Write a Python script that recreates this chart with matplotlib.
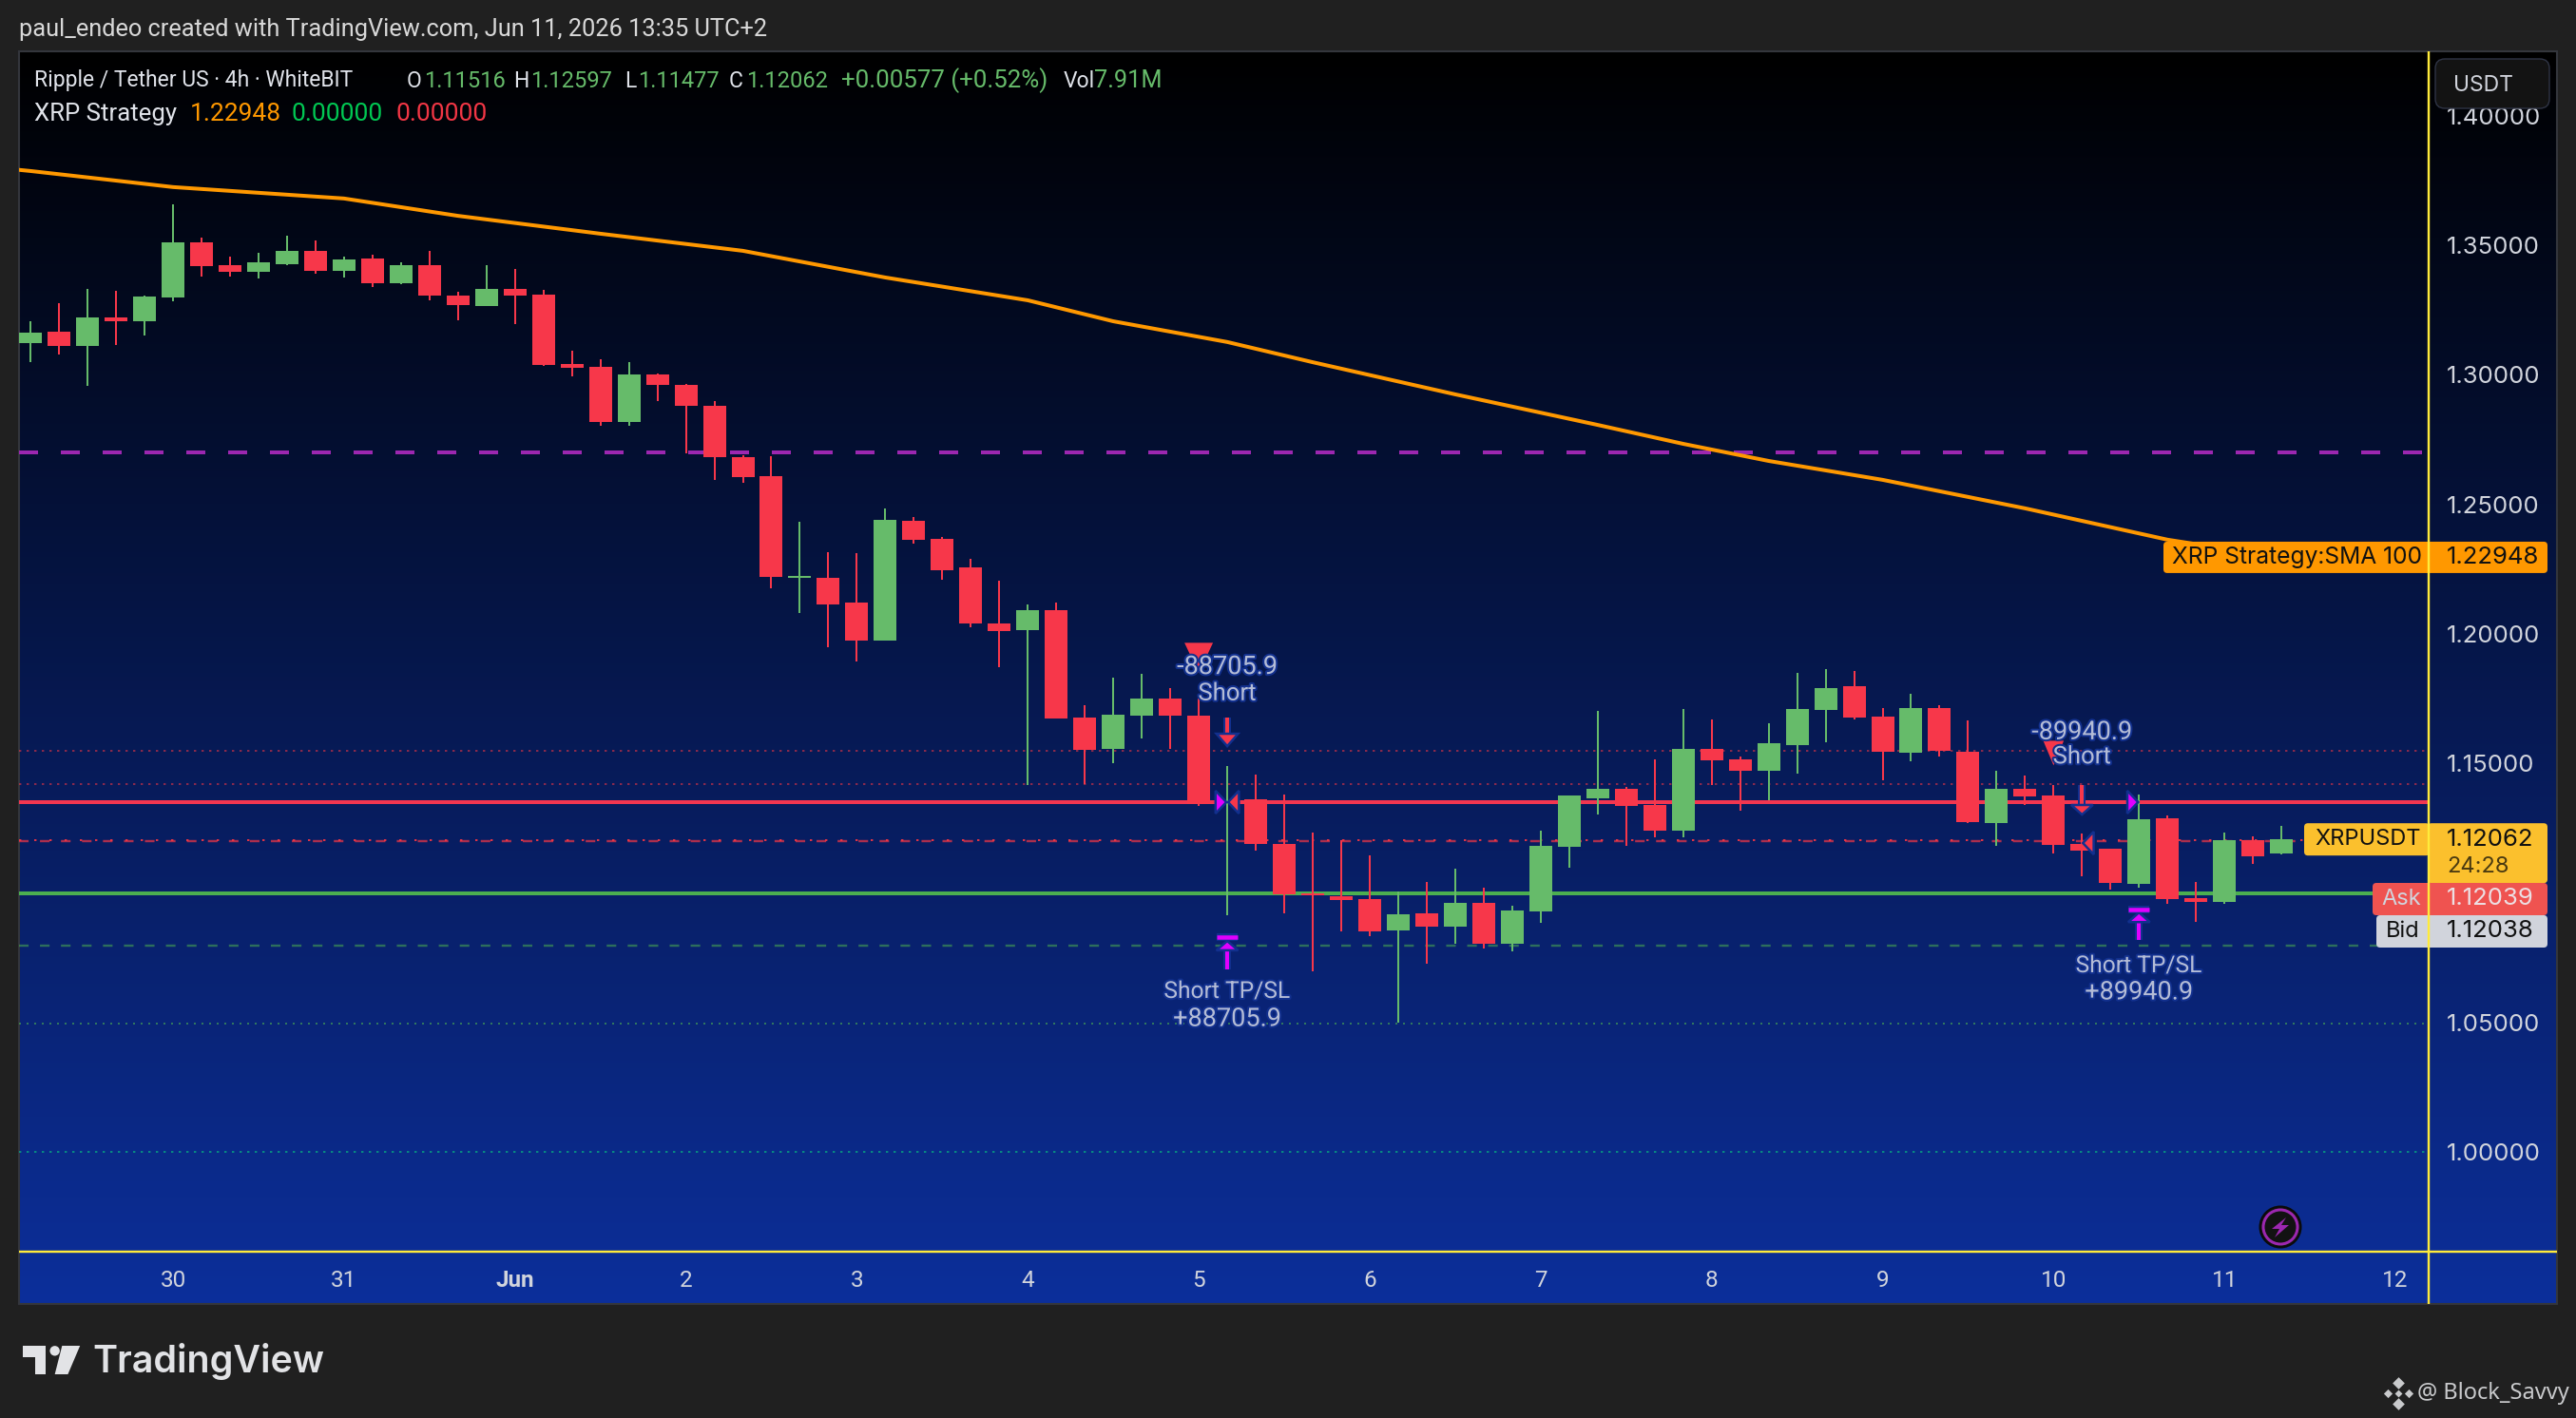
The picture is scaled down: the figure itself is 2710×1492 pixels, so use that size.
import numpy as np
import matplotlib
matplotlib.use("Agg")
import matplotlib.pyplot as plt
from matplotlib.patches import FancyBboxPatch, Polygon, Circle
import matplotlib.patheffects as pe

# ---------- data ----------
opens = [1.3122,1.3166,1.3111,1.3221,1.3206,1.3298,1.3511,1.3423,1.3397,1.3426,
         1.3478,1.3401,1.3448,1.3353,1.3423,1.3305,1.3265,1.3331,1.3309,1.3041,
         1.3030,1.2817,1.3001,1.2960,1.2880,1.2682,1.2608,1.2216,1.2216,1.2120,
         1.1973,1.2436,1.2366,1.2256,1.2040,1.2014,1.2091,1.1676,1.1556,1.1684,
         1.1750,1.1684,1.1350,1.1361,1.1188,1.0998,1.0987,1.0976,1.0855,1.0921,
         1.0869,1.0961,1.0803,1.0928,1.1177,1.1365,1.1401,1.1339,1.1240,1.1556,
         1.1515,1.1471,1.1570,1.1706,1.1797,1.1680,1.1541,1.1713,1.1544,1.1269,
         1.1401,1.1376,1.1188,1.1170,1.1034,1.1288,1.0979,1.0965,1.1203,1.11516]
highs = [1.3206,1.3276,1.3331,1.3324,1.3305,1.3657,1.3529,1.3456,1.3470,1.3536,
         1.3518,1.3456,1.3463,1.3434,1.3478,1.3320,1.3423,1.3408,1.3327,1.3092,
         1.3060,1.3048,1.3004,1.2964,1.2898,1.2689,1.2685,1.2432,1.2315,1.2311,
         1.2483,1.2450,1.2373,1.2289,1.2205,1.2113,1.2120,1.1724,1.1830,1.1845,
         1.1790,1.1750,1.1489,1.1456,1.1379,1.1233,1.1203,1.1145,1.1005,1.1042,
         1.1093,1.1020,1.0950,1.1240,1.1376,1.1702,1.1409,1.1515,1.1709,1.1669,
         1.1526,1.1654,1.1849,1.1864,1.1856,1.1713,1.1768,1.1724,1.1665,1.1471,
         1.1453,1.1416,1.1229,1.1170,1.1379,1.1299,1.1042,1.1233,1.1218,1.12597]
lows = [1.3048,1.3078,1.2957,1.3114,1.3151,1.3283,1.3379,1.3379,1.3371,1.3423,
        1.3390,1.3375,1.3338,1.3349,1.3287,1.3210,1.3265,1.3195,1.3034,1.2993,
        1.2803,1.2803,1.2898,1.2696,1.2595,1.2581,1.2175,1.2080,1.1948,1.1893,
        1.1973,1.2348,1.2208,1.2025,1.1871,1.1416,1.1673,1.1420,1.1500,1.1596,
        1.1556,1.1335,1.0913,1.1163,1.0921,1.0697,1.0851,1.0833,1.0499,1.0726,
        1.0803,1.0785,1.0774,1.0884,1.1097,1.1302,1.1181,1.1214,1.1214,1.1416,
        1.1317,1.1357,1.1460,1.1581,1.1669,1.1434,1.1508,1.1526,1.1269,1.1181,
        1.1339,1.1152,1.1064,1.1013,1.1020,1.0957,1.0888,1.0957,1.1111,1.11477]
closes = [1.3162,1.3111,1.3221,1.3206,1.3302,1.3511,1.3419,1.3397,1.3434,1.3478,
          1.3401,1.3445,1.3353,1.3423,1.3305,1.3269,1.3331,1.3305,1.3037,1.3026,
          1.2817,1.3001,1.2960,1.2880,1.2682,1.2604,1.2219,1.2223,1.2113,1.1973,
          1.2439,1.2362,1.2245,1.2040,1.2010,1.2091,1.1673,1.1552,1.1687,1.1750,
          1.1684,1.1343,1.1357,1.1188,1.0994,1.0990,1.0972,1.0851,1.0917,1.0869,
          1.0961,1.0803,1.0932,1.1181,1.1376,1.1401,1.1335,1.1240,1.1556,1.1511,
          1.1471,1.1577,1.1709,1.1790,1.1676,1.1544,1.1713,1.1548,1.1273,1.1401,
          1.1372,1.1185,1.1163,1.1038,1.1284,1.0976,1.0965,1.1203,1.1141,1.12062]

sma_bars = [-1,0,3,5,8,11,15,20,25,30,35,38,42,45,50,55,58,61,65,70,75,79]
sma_vals = [1.3797,1.3786,1.3749,1.3724,1.3702,1.3680,1.3613,1.3544,1.3478,1.3375,
            1.3287,1.3206,1.3126,1.3048,1.2924,1.2806,1.2733,1.2667,1.2594,1.2484,
            1.2363,1.22948]

price_ticks = [1.00,1.05,1.10,1.15,1.20,1.25,1.30,1.35,1.40]
price_tick_labels = ["1.00000","1.05000","","1.15000","1.20000","1.25000","1.30000","1.35000","1.40000"]
day_bars = [5,11,17,23,29,35,41,47,53,59,65,71,77,83]
day_labels = ["30","31","Jun","2","3","4","5","6","7","8","9","10","11","12"]

level_purple = 1.2700
level_red = 1.1350
level_green = 1.0998
levels_red_dotted = [1.1548,1.1420]
level_red_dashed = 1.1200
level_red_dots = 1.1205
level_green_dashed = 1.0796
level_green_dotted = 1.0495
level_teal_dotted = 1.0000

last_close = 1.12062
ask = 1.12039
bid = 1.12038
sma_last = 1.22948

# ---------- geometry ----------
W, H = 2710, 1492
L, R, T, B = 20, 2555, 54, 1317
PR, PB = 2690, 1372
PX_PER_UNIT = 2726.0
BAR_PX = 29.975
FONT_UI = "Roboto"
FONT_PX = "Inter"
GREEN = "#66bb6a"
RED = "#f7374a"
TXT = "#d1d4dc"
YEL = "#ffeb3b"
ORANGE = "#ff9800"
MAG = "#e000ff"
OUT = "#12308e"

px = lambda v: v * 0.72  # pixels -> points at dpi 100

fig = plt.figure(figsize=(W / 100, H / 100), dpi=100, facecolor="#202020")

# gradient panel
bg = fig.add_axes([L / W, 1 - PB / H, (PR - L) / W, (PB - T) / H], zorder=0)
grad = np.linspace(0, 1, 512)[:, None, None] * np.array([12, 47, 155])[None, None, :] / 255
bg.imshow(grad, aspect="auto", interpolation="bilinear")
bg.set_xticks([]); bg.set_yticks([])
for s in bg.spines.values():
    s.set_color("#34363c"); s.set_linewidth(1.5)

# main axes
ax = fig.add_axes([L / W, 1 - B / H, (R - L) / W, (B - T) / H], zorder=2)
ax.patch.set_alpha(0)
for s in ax.spines.values():
    s.set_visible(False)
ax.set_xlim(5 + (L - 182) / BAR_PX, 5 + (R - 182) / BAR_PX)
ax.set_ylim(1 - (B - 1212) / PX_PER_UNIT, 1 + (1212 - T) / PX_PER_UNIT)

def py(price):
    return 1212 - (price - 1) * PX_PER_UNIT

def hline(p, color, lw_px, ls, alpha=1.0, z=1):
    ax.axhline(p, color=color, lw=px(lw_px), ls=ls, alpha=alpha, zorder=z)

hline(level_red, "#f23650", 4, "-")
hline(level_green, "#4caf50", 4, "-")
hline(level_purple, "#9c27b0", 4, (0, (5, 6)))
for p in levels_red_dotted:
    hline(p, "#f23645", 2, (0, (1.2, 2.8)), 0.55)
hline(level_red_dashed, "#f23645", 2.4, (0, (4.2, 5.0)), 0.7)
hline(level_red_dots, "#f23645", 2, (0, (1.2, 6.8)), 0.9)
hline(level_green_dashed, "#4caf50", 2.4, (0, (4.2, 5.0)), 0.55)
hline(level_green_dotted, "#4caf50", 2, (0, (1, 3)), 0.6)
hline(level_teal_dotted, "#089981", 2, (0, (1.2, 2.8)), 0.85)

# SMA
ax.plot(sma_bars, sma_vals, color=ORANGE, lw=px(4), zorder=2, solid_capstyle="butt")

# candles
idx = np.arange(len(opens))
o, h, l, c = map(np.array, (opens, highs, lows, closes))
col = np.where(c >= o, GREEN, RED)
ax.vlines(idx, l, h, colors=col, lw=px(2), zorder=3)
ax.bar(idx, np.abs(c - o), bottom=np.minimum(o, c), width=24 / BAR_PX, color=col, lw=0, zorder=4)

# trade markers
def arrow(bar, tail, head_base, tip, color, hw=0.38):
    ax.plot([bar, bar], [tail, head_base], color=color, lw=px(4), zorder=5,
            solid_capstyle="butt", path_effects=[pe.Stroke(linewidth=px(8), foreground=OUT), pe.Normal()])
    ax.add_patch(Polygon([[bar - hw, head_base], [bar + hw, head_base], [bar, tip]], closed=True,
                         fc=color, ec=OUT, lw=px(2.5), zorder=6))

def tp_arrow(bar, tail, head_base, tip, bar_top):
    arrow(bar, tail, head_base, tip, MAG)
    ax.plot([bar - 0.37, bar + 0.37], [bar_top, bar_top], color=MAG, lw=px(4.5), zorder=6,
            solid_capstyle="butt", path_effects=[pe.Stroke(linewidth=px(8), foreground=OUT), pe.Normal()])

def side_tri(bar, price, direction, color, offset=0.03):
    tipx = bar + (-offset if direction > 0 else offset)
    basex = tipx - direction * 0.38
    dy = 12 / PX_PER_UNIT
    ax.add_patch(Polygon([[basex, price - dy], [basex, price + dy], [tipx, price]], closed=True,
                         fc=color, ec=OUT, lw=px(2.5), zorder=6))

def down_tri(bar, top, tip, color, hw=0.5):
    ax.add_patch(Polygon([[bar - hw, top], [bar + hw, top], [bar, tip]], closed=True,
                         fc=color, ec="none", zorder=6))

arrow(42, 1.1676, 1.1614, 1.1566, RED)
arrow(72, 1.1416, 1.1339, 1.1302, RED)
tp_arrow(42, 1.0704, 1.0778, 1.0814, 1.0829)
tp_arrow(74, 1.0818, 1.0887, 1.0924, 1.0937)
side_tri(42, level_red, 1, MAG)
side_tri(42, level_red, -1, RED)
side_tri(72, 1.1192, -1, RED)
side_tri(74, level_red, 1, MAG)
down_tri(41, 1.1965, 1.1848, RED)
down_tri(71, 1.1587, 1.1492, RED, hw=0.36)

def trade_text(bar, price, s, size):
    t = ax.text(bar, price, s, ha="center", va="center", color="#b4bcd6", fontsize=size,
                family=FONT_UI, zorder=7)
    t.set_path_effects([pe.Stroke(linewidth=px(4), foreground=OUT), pe.Normal()])

trade_text(42, 1.1872, "-88705.9", 19.5)
trade_text(42, 1.1769, "Short", 18.5)
trade_text(42, 1.0620, "Short TP/SL", 17.7)
trade_text(42, 1.0513, "+88705.9", 19.5)
trade_text(72, 1.1620, "-89940.9", 19.5)
trade_text(72, 1.1525, "Short", 18.5)
trade_text(74, 1.0719, "Short TP/SL", 17.7)
trade_text(74, 1.0616, "+89940.9", 19.5)

# axes ticks
ax.yaxis.tick_right()
ax.set_yticks(price_ticks)
ax.set_yticklabels(price_tick_labels, family=FONT_PX, fontsize=18.5, color=TXT)
ax.set_xticks(day_bars)
ax.set_xticklabels(day_labels, family=FONT_UI, fontsize=17.5, color=TXT)
ax.tick_params(axis="both", length=0)
ax.tick_params(axis="y", pad=px(19))
ax.tick_params(axis="x", pad=px(19))
for lab in ax.get_xticklabels():
    if lab.get_text() == "Jun":
        lab.set_fontweight("bold")

# overlay in pixel coordinates
ov = fig.add_axes([0, 0, 1, 1], zorder=5)
ov.set_xlim(0, W); ov.set_ylim(H, 0); ov.axis("off"); ov.patch.set_alpha(0)

def txt(x, y, s, color=TXT, size=16.5, family=FONT_UI, ha="left", weight="normal", z=10):
    return ov.text(x, y, s, color=color, fontsize=size, family=family, ha=ha, va="center",
                   fontweight=weight, zorder=z)

def box(x0, y0, x1, y1, color, rad=5, z=8, ec="none"):
    ov.add_patch(FancyBboxPatch((x0 + rad, y0 + rad), x1 - x0 - 2 * rad, y1 - y0 - 2 * rad,
                                boxstyle=f"round,pad={rad},rounding_size={rad}", fc=color, ec=ec, lw=1, zorder=z))

# header & legend
txt(20, 31, "paul_endeo created with TradingView.com, Jun 11, 2026 13:35 UTC+2", size=18.3, color="#d8d8d8")
LEG_GREEN = "#66bb6a"
yl1, yl2 = 85, 120
txt(36, yl1, "Ripple / Tether US · 4h · WhiteBIT", color="#e0e3ea")
for x, s, in [(428, "O"), (540, "H"), (657, "L"), (767, "C"), (1119, "Vol")]:
    txt(x, yl1, s, color="#e0e3ea")
for x, s in [(446, "1.11516"), (558, "1.12597"), (671, "1.11477"), (785, "1.12062")]:
    txt(x, yl1, s, color=LEG_GREEN, size=17)
txt(885, yl1, "+0.00577 (+0.52%)", color=LEG_GREEN, size=18.6)
txt(1151, yl1, "7.91M", color=LEG_GREEN, size=18.2)
txt(36, yl2, "XRP Strategy", size=18.5, color="#e0e3ea")
txt(200, yl2, "1.22948", color=ORANGE, size=19)
txt(307, yl2, "0.00000", color="#00c853", size=19)
txt(416, yl2, "0.00000", color="#f23645", size=19)

# USDT box
box(2562, 62, 2682, 114, "#131313", rad=10, ec="#2f3445")
txt(2581, 90, "USDT", family=FONT_PX, size=16.5, z=9)

# price labels
ys = py(sma_last)
box(2276, ys - 16.5, 2680, ys + 16.5, ORANGE, rad=4)
txt(2285, ys, "XRP Strategy:SMA 100", color="#111111", family=FONT_PX, size=17.7)
txt(2574, ys, f"{sma_last:.5f}", color="#111111", family=FONT_PX, size=18.5)

yc = py(last_close)
box(2424, yc - 17, 2556, yc + 17, "#fbc02d", rad=4)
box(2554, yc - 17, 2680, yc + 46, "#fbc02d", rad=4)
txt(2435, yc, "XRPUSDT", color="#111111", family=FONT_PX, size=17)
txt(2574, yc, f"{last_close:.5f}", color="#111111", family=FONT_PX, size=18.5)
txt(2574, yc + 29, "24:28", color="#4a3a10", family=FONT_PX, size=17)

box(2496, 929, 2680, 963, "#ef5350", rad=4)
txt(2505, 946, "Ask", color=TXT, family=FONT_PX, size=17)
txt(2574, 946, f"{ask:.5f}", color="#ecdfe3", family=FONT_PX, size=18.5)
box(2500, 963, 2680, 997, "#d1d4dc", rad=4)
txt(2510, 980, "Bid", color="#111111", family=FONT_PX, size=17)
txt(2574, 980, f"{bid:.5f}", color="#111111", family=FONT_PX, size=18.5)

# crosshair
ov.plot([R, R], [T, PB], color=YEL, lw=px(2.4), zorder=9, solid_capstyle="butt")
ov.plot([L, PR], [B, B], color=YEL, lw=px(2.4), zorder=9, solid_capstyle="butt")

# lightning badge
ov.add_patch(Circle((2399, 1291), 21.5, fc="#121212", ec="#0a0a0a", lw=px(2), zorder=8))
ov.add_patch(Circle((2399, 1291), 18, fc="#121212", ec="#9c27b0", lw=px(3), zorder=8))
ov.add_patch(Polygon([[2405, 1281], [2390, 1293], [2398, 1293], [2393, 1302], [2408, 1289], [2400, 1289]],
                     closed=True, fc="#9c27b0", ec="none", zorder=9))

# TradingView logo
LG = "#e2e3e6"
zx = lambda v: v / 1.96
zy = lambda v: 1300 + v / 3
ov.add_patch(Polygon([[zx(48), zy(348)], [zx(95), zy(348)], [zx(95), zy(438)], [zx(72), zy(438)],
                      [zx(72), zy(385)], [zx(48), zy(385)]], closed=True, fc=LG, ec="none"))
ov.add_patch(Circle((zx(113), zy(364)), 5.2, fc=LG, ec="none"))
ov.add_patch(Polygon([[zx(128), zy(348)], [zx(165), zy(348)], [zx(140), zy(438)], [zx(113), zy(438)]],
                     closed=True, fc=LG, ec="none"))
txt(97, 1433, "TradingView", color=LG, size=28.4, family=FONT_PX, weight="semibold")

# watermark
WM = "#c9cacc"
for dx, dy, s in [(0, -11, 42), (0, 11, 42), (-11, 0, 22), (11, 0, 22), (0, 0, 16)]:
    ov.scatter([2523 + dx], [1466 + dy], marker="D", s=s, c=WM, linewidths=0, zorder=9)
txt(2543, 1466, "@ Block_Savvy", color=WM, size=17, family="Noto Sans")

fig.savefig("out.png", dpi=100, facecolor=fig.get_facecolor())
